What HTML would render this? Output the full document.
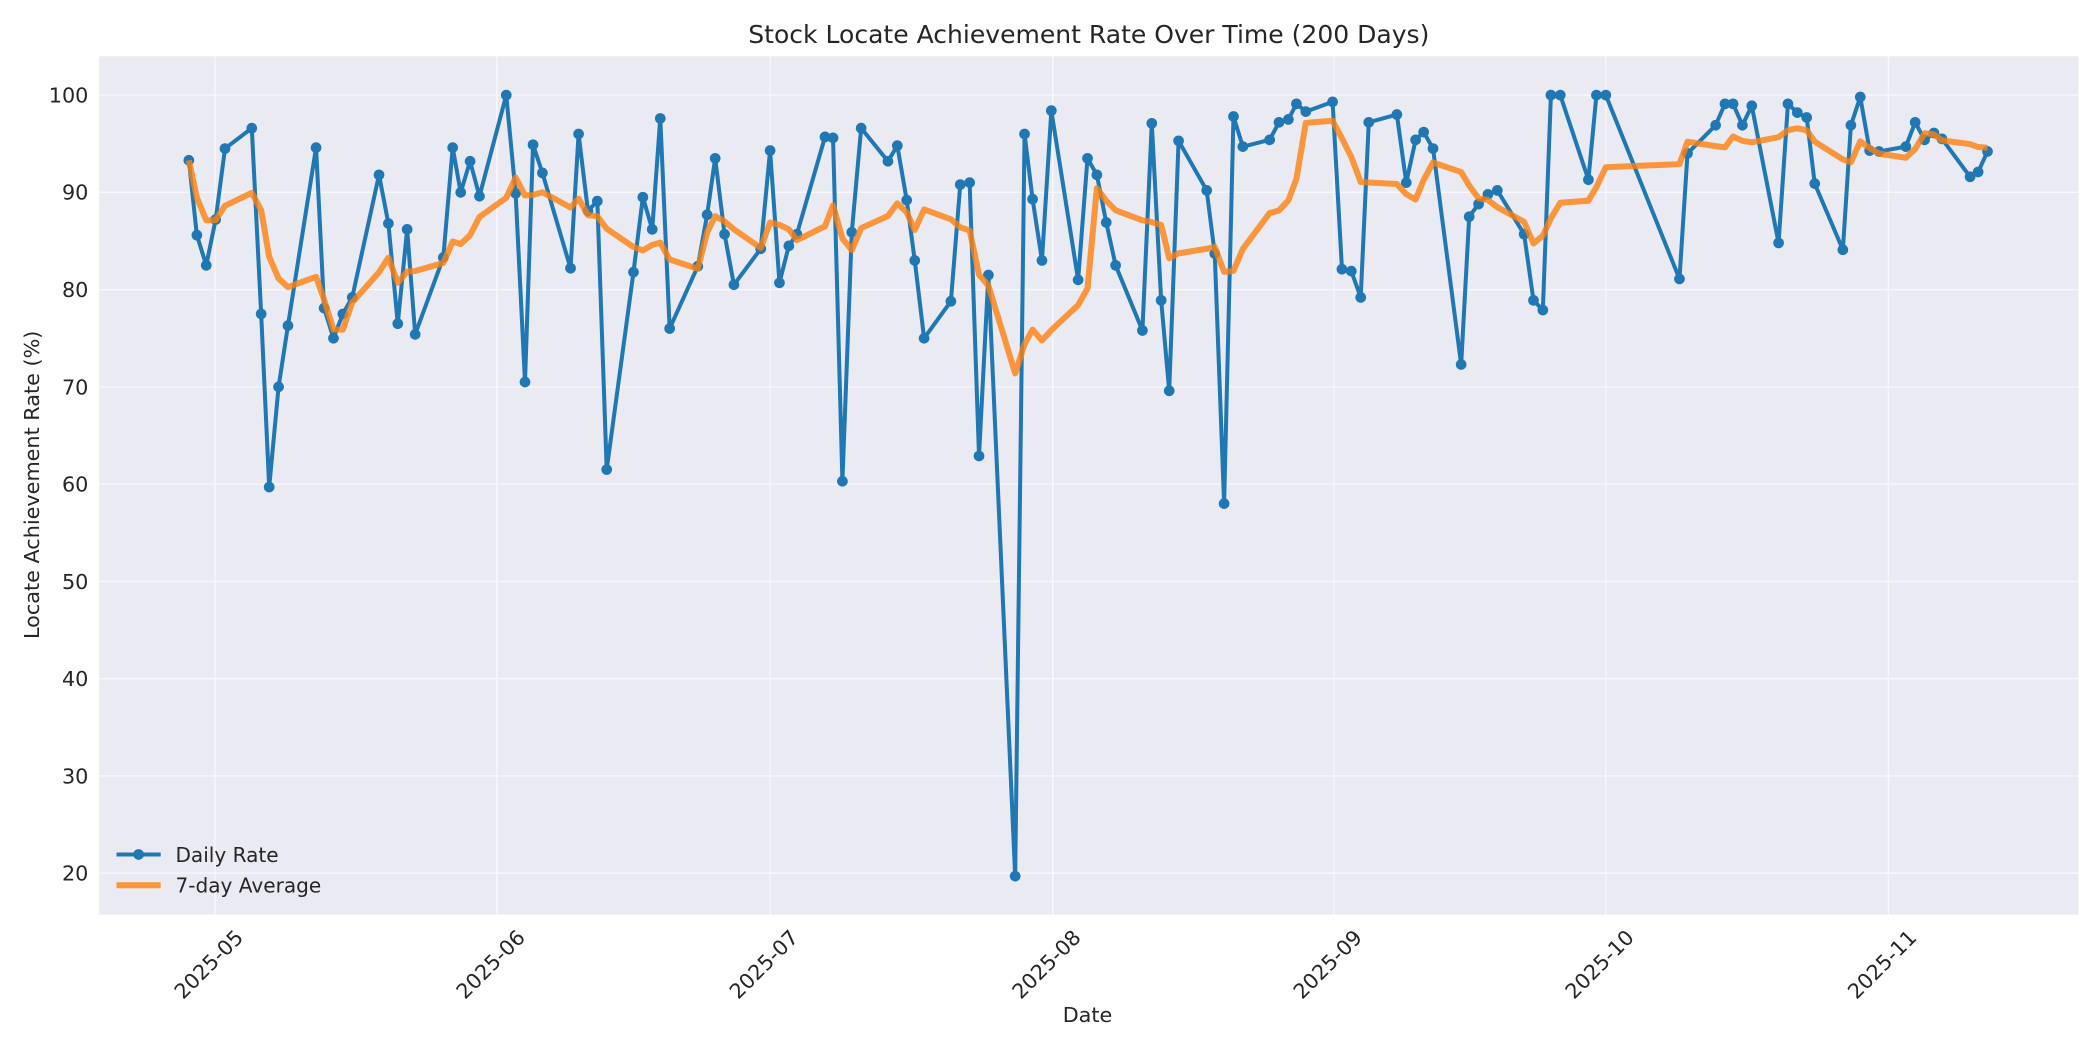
<!DOCTYPE html>
<html><head><meta charset="utf-8"><style>html,body{margin:0;padding:0;background:#fff}svg{display:block}</style></head>
<body>
<svg id="s" width="2100" height="1050" viewBox="0 0 1568 784" xmlns="http://www.w3.org/2000/svg" font-family="DejaVu Sans, Liberation Sans, sans-serif" fill="#262626">
<rect width="1568" height="784" fill="#fff"/>
<rect x="74" y="42" width="1478" height="641" fill="#eaeaf2"/>
<g id="grid" stroke="#fff" stroke-width="1" opacity="0.7"></g>
<g id="lab" font-size="15.5"></g>
<text x="813" y="32" text-anchor="middle" font-size="18.7">Stock Locate Achievement Rate Over Time (200 Days)</text>
<text x="812" y="763" text-anchor="middle" font-size="15.5">Date</text>
<text transform="translate(29,362) rotate(-90)" text-anchor="middle" font-size="15.5">Locate Achievement Rate (%)</text>
<g id="plot"></g>
<g font-size="15">
<line x1="87" y1="638" x2="120" y2="638" stroke="#1f77b4" stroke-width="3"/>
<circle cx="103.5" cy="638" r="4" fill="#1f77b4"/>
<text x="131" y="643.5">Daily Rate</text>
<line x1="87" y1="661" x2="120" y2="661" stroke="#ff7f0e" stroke-opacity="0.8" stroke-width="4.5"/>
<text x="131" y="666.5">7-day Average</text>
</g>
</svg>
<script>
const NS="http://www.w3.org/2000/svg";
function el(p,t,a,txt){const e=document.createElementNS(NS,t);for(const k in a)e.setAttribute(k,a[k]);if(txt)e.textContent=txt;p.appendChild(e);return e;}
const Y=v=>71+(100-v)*7.2625;
const g=document.getElementById('grid'),lab=document.getElementById('lab');
for(let v=20;v<=100;v+=10){el(g,'line',{x1:74,x2:1552,y1:Y(v),y2:Y(v)});el(lab,'text',{x:66,y:Y(v)+5.5,'text-anchor':'end'},String(v));}
const ticks=[[160.5,'05'],[371,'06'],[575,'07'],[786,'08'],[996,'09'],[1199,'10'],[1410,'11']];
for(const [x,m] of ticks){el(g,'line',{x1:x,x2:x,y1:42,y2:683});el(lab,'text',{transform:`translate(${x+22},${701}) rotate(-45)`,'text-anchor':'end'},'2025-'+m);}
const d=[[141,93.3],[147,85.6],[154,82.5],[161,87.2],[168,94.5],[188,96.6],[195,77.5],[201,59.7],[208,70],[215,76.3],[236,94.6],[242,78.1],[249,75],[256,77.5],[263,79.2],[283,91.8],[290,86.8],[297,76.5],[304,86.2],[310,75.4],[331,83.3],[338,94.6],[344,90],[351,93.2],[358,89.6],[378,100],[385,89.9],[392,70.5],[398,94.9],[405,92],[426,82.2],[432,96],[439,88.1],[446,89.1],[453,61.5],[473,81.8],[480,89.5],[487,86.2],[493,97.6],[500,76],[521,82.4],[528,87.7],[534,93.5],[541,85.7],[548,80.5],[568,84.2],[575,94.3],[582,80.7],[589,84.5],[595,85.7],[616,95.7],[622,95.6],[629,60.3],[636,85.9],[643,96.6],[663,93.2],[670,94.8],[677,89.2],[683,83],[690,75],[710,78.8],[717,90.8],[724,91],[731,62.9],[738,81.5],[758,19.7],[765,96],[771,89.3],[778,83],[785,98.4],[805,81],[812,93.5],[819,91.8],[826,86.9],[833,82.5],[853,75.8],[860,97.1],[867,78.9],[873,69.6],[880,95.3],[901,90.2],[907,83.7],[914,58],[921,97.8],[928,94.7],[948,95.4],[955,97.2],[962,97.5],[968,99.1],[975,98.3],[995,99.3],[1002,82.1],[1009,81.9],[1016,79.2],[1022,97.2],[1043,98],[1050,91],[1057,95.4],[1063,96.2],[1070,94.5],[1091,72.3],[1097,87.5],[1104,88.8],[1111,89.8],[1118,90.2],[1138,85.7],[1145,78.9],[1152,77.9],[1158,100],[1165,100],[1186,91.3],[1192,100],[1199,100],[1254,81.1],[1260,94],[1281,96.9],[1288,99.1],[1294,99.1],[1301,96.9],[1308,98.9],[1328,84.8],[1335,99.1],[1342,98.2],[1349,97.7],[1355,90.9],[1376,84.1],[1382,96.9],[1389,99.8],[1396,94.3],[1403,94.2],[1423,94.7],[1430,97.2],[1437,95.4],[1444,96.1],[1450,95.5],[1471,91.6],[1477,92.1],[1484,94.2]];
const p=document.getElementById('plot');
el(p,'polyline',{points:d.map(a=>a[0]+','+Y(a[1])).join(' '),fill:'none',stroke:'#1f77b4','stroke-width':3,'stroke-linejoin':'round'});
for(const a of d)el(p,'circle',{cx:a[0],cy:Y(a[1]),r:4,fill:'#1f77b4'});
const av=d.map((a,i)=>{const s=d.slice(Math.max(0,i-6),i+1);return [a[0],s.reduce((t,b)=>t+b[1],0)/s.length];});
el(p,'polyline',{points:av.map(a=>a[0]+','+Y(a[1])).join(' '),fill:'none',stroke:'#ff7f0e','stroke-opacity':0.8,'stroke-width':4.5,'stroke-linejoin':'round'});
</script>
</body></html>
